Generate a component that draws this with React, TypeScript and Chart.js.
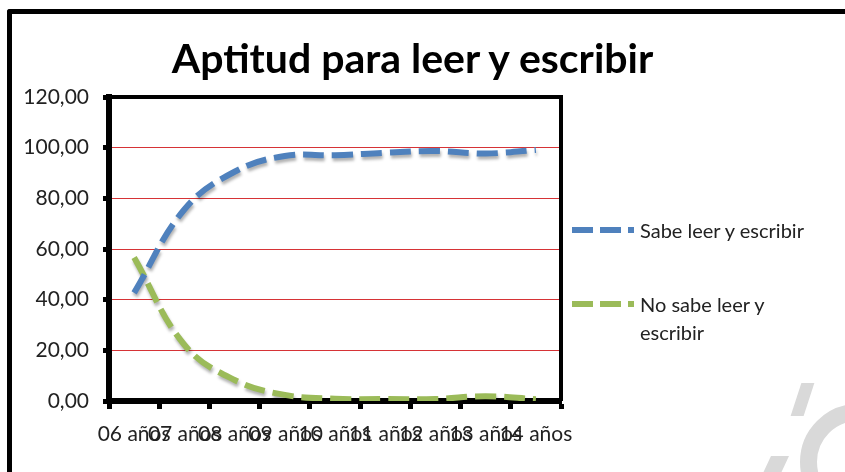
import React, { useEffect, useRef } from "react";
import { Chart, registerables } from "chart.js";

Chart.register(...registerables);

const categories = ["06 años", "07 años", "08 años", "09 años", "10 años", "11 años", "12 años", "13 años", "14 años"];
const sabeLeer = [42.7, 75.6, 90.5, 96.7, 97.0, 98.0, 98.7, 97.7, 99.1];
const noSabeLeer = [56.6, 22.2, 8.3, 2.4, 0.9, 0.8, 0.8, 1.9, 0.7];
const seriesNames = ["Sabe leer y escribir", "No sabe leer y escribir"];
const yMin = 0;
const yMax = 120;
const yStep = 20;

const BLUE = "#4F81BD";
const GREEN = "#9BBB59";
const FONT = "Lato, 'Open Sans', sans-serif";

const frameBorder = {
  id: "frameBorder",
  afterDatasetsDraw(chart: any) {
    const { ctx, chartArea } = chart;
    ctx.save();
    ctx.strokeStyle = "#000";
    ctx.lineWidth = 4;
    ctx.beginPath();
    ctx.moveTo(chartArea.left, chartArea.top);
    ctx.lineTo(chartArea.right, chartArea.top);
    ctx.lineTo(chartArea.right, chartArea.bottom);
    ctx.stroke();
    ctx.restore();
  },
};

const lineShadow = {
  id: "lineShadow",
  beforeDatasetsDraw(chart: any) {
    const ctx = chart.ctx;
    ctx.save();
    ctx.shadowColor = "rgba(0,0,0,0.3)";
    ctx.shadowBlur = 3;
    ctx.shadowOffsetX = 1;
    ctx.shadowOffsetY = 3;
  },
  afterDatasetsDraw(chart: any) {
    chart.ctx.restore();
  },
};

function LegendSymbol({ color }: { color: string }) {
  const seg = (w: number, gap: number) => (
    <span style={{ display: "inline-block", width: w, height: 6, background: color, marginRight: gap }} />
  );
  return (
    <span style={{ display: "inline-flex", alignItems: "center", width: 68 }}>
      {seg(21, 7)}
      {seg(21, 7)}
      {seg(6, 0)}
    </span>
  );
}

export default function App() {
  const ref = useRef<HTMLCanvasElement>(null);
  useEffect(() => {
    if (!ref.current) return;
    const chart = new Chart(ref.current, {
      type: "line",
      data: {
        labels: categories,
        datasets: [
          {
            label: seriesNames[0],
            data: sabeLeer,
            borderColor: BLUE,
            borderWidth: 6,
            borderDash: [21, 8],
            borderCapStyle: "butt",
            pointRadius: 0,
            tension: 0.4,
            fill: false,
          },
          {
            label: seriesNames[1],
            data: noSabeLeer,
            borderColor: GREEN,
            borderWidth: 6,
            borderDash: [21, 8],
            borderCapStyle: "butt",
            pointRadius: 0,
            tension: 0.4,
            fill: false,
          },
        ],
      },
      options: {
        animation: false,
        responsive: false,
        maintainAspectRatio: false,
        layout: { padding: { top: 97, left: 9, right: 284, bottom: 21 } },
        plugins: {
          legend: { display: false },
          title: { display: false },
          tooltip: { enabled: false },
        },
        scales: {
          x: {
            type: "category",
            offset: true,
            grid: {
              offset: true,
              drawOnChartArea: false,
              color: "#000",
              tickColor: "#000",
              tickLength: 8,
              tickWidth: 5,
            },
            border: { display: true, color: "#000", width: 6 },
            ticks: {
              autoSkip: false,
              maxRotation: 0,
              minRotation: 0,
              padding: 13,
              color: "#222",
              font: { family: FONT, size: 21 },
            },
            afterFit(scale: any) {
              scale.height = 50;
            },
          },
          y: {
            min: yMin,
            max: yMax,
            ticks: {
              stepSize: yStep,
              padding: 14,
              color: "#222",
              font: { family: FONT, size: 21 },
              callback: (v: any) => Number(v).toFixed(2).replace(".", ","),
            },
            grid: {
              color: "#D63336",
              lineWidth: 1,
              tickColor: "#000",
              tickLength: 6,
              tickWidth: 5,
            },
            border: { display: true, color: "#000", width: 6 },
            afterFit(scale: any) {
              scale.width = 100;
            },
          },
        },
      },
      plugins: [lineShadow, frameBorder],
    });
    return () => chart.destroy();
  }, []);

  return (
    <div style={{ position: "absolute", left: 0, top: 0, width: 845, height: 472, background: "#fff", overflow: "hidden", fontFamily: FONT }}>
      <div style={{ position: "absolute", left: 7, top: 9, width: 900, height: 600, borderTop: "5px solid #000", borderLeft: "5px solid #000", borderTopLeftRadius: 3 }} />
      <div style={{ position: "absolute", left: 764, top: 456, width: 18, height: 30, background: "#d9d9d9", transform: "skewX(-25deg)" }} />
      <div style={{ position: "absolute", left: 796, top: 383, width: 13, height: 33, background: "#d9d9d9", transform: "skewX(-18deg)" }} />
      <div style={{ position: "absolute", left: 800, top: 404, width: 116, height: 116, borderRadius: "50%", border: "17px solid #d9d9d9", boxSizing: "border-box" }} />
      <canvas ref={ref} width={845} height={472} style={{ position: "absolute", left: 0, top: 0 }} />
      <div style={{ position: "absolute", left: 0, width: 825, top: 33, textAlign: "center", fontSize: 41, fontWeight: 700, color: "#000", lineHeight: "50px" }}>
        Aptitud para leer y escribir
      </div>
      <div style={{ position: "absolute", left: 572, top: 216, display: "flex", alignItems: "center", fontSize: 20, color: "#222", lineHeight: "28px" }}>
        <LegendSymbol color={BLUE} />
        <span>{seriesNames[0]}</span>
      </div>
      <div style={{ position: "absolute", left: 572, top: 290, display: "flex", alignItems: "flex-start", fontSize: 20, color: "#222", lineHeight: "28px" }}>
        <span style={{ height: 28, display: "inline-flex", alignItems: "center" }}>
          <LegendSymbol color={GREEN} />
        </span>
        <span style={{ width: 170 }}>{seriesNames[1]}</span>
      </div>
    </div>
  );
}
